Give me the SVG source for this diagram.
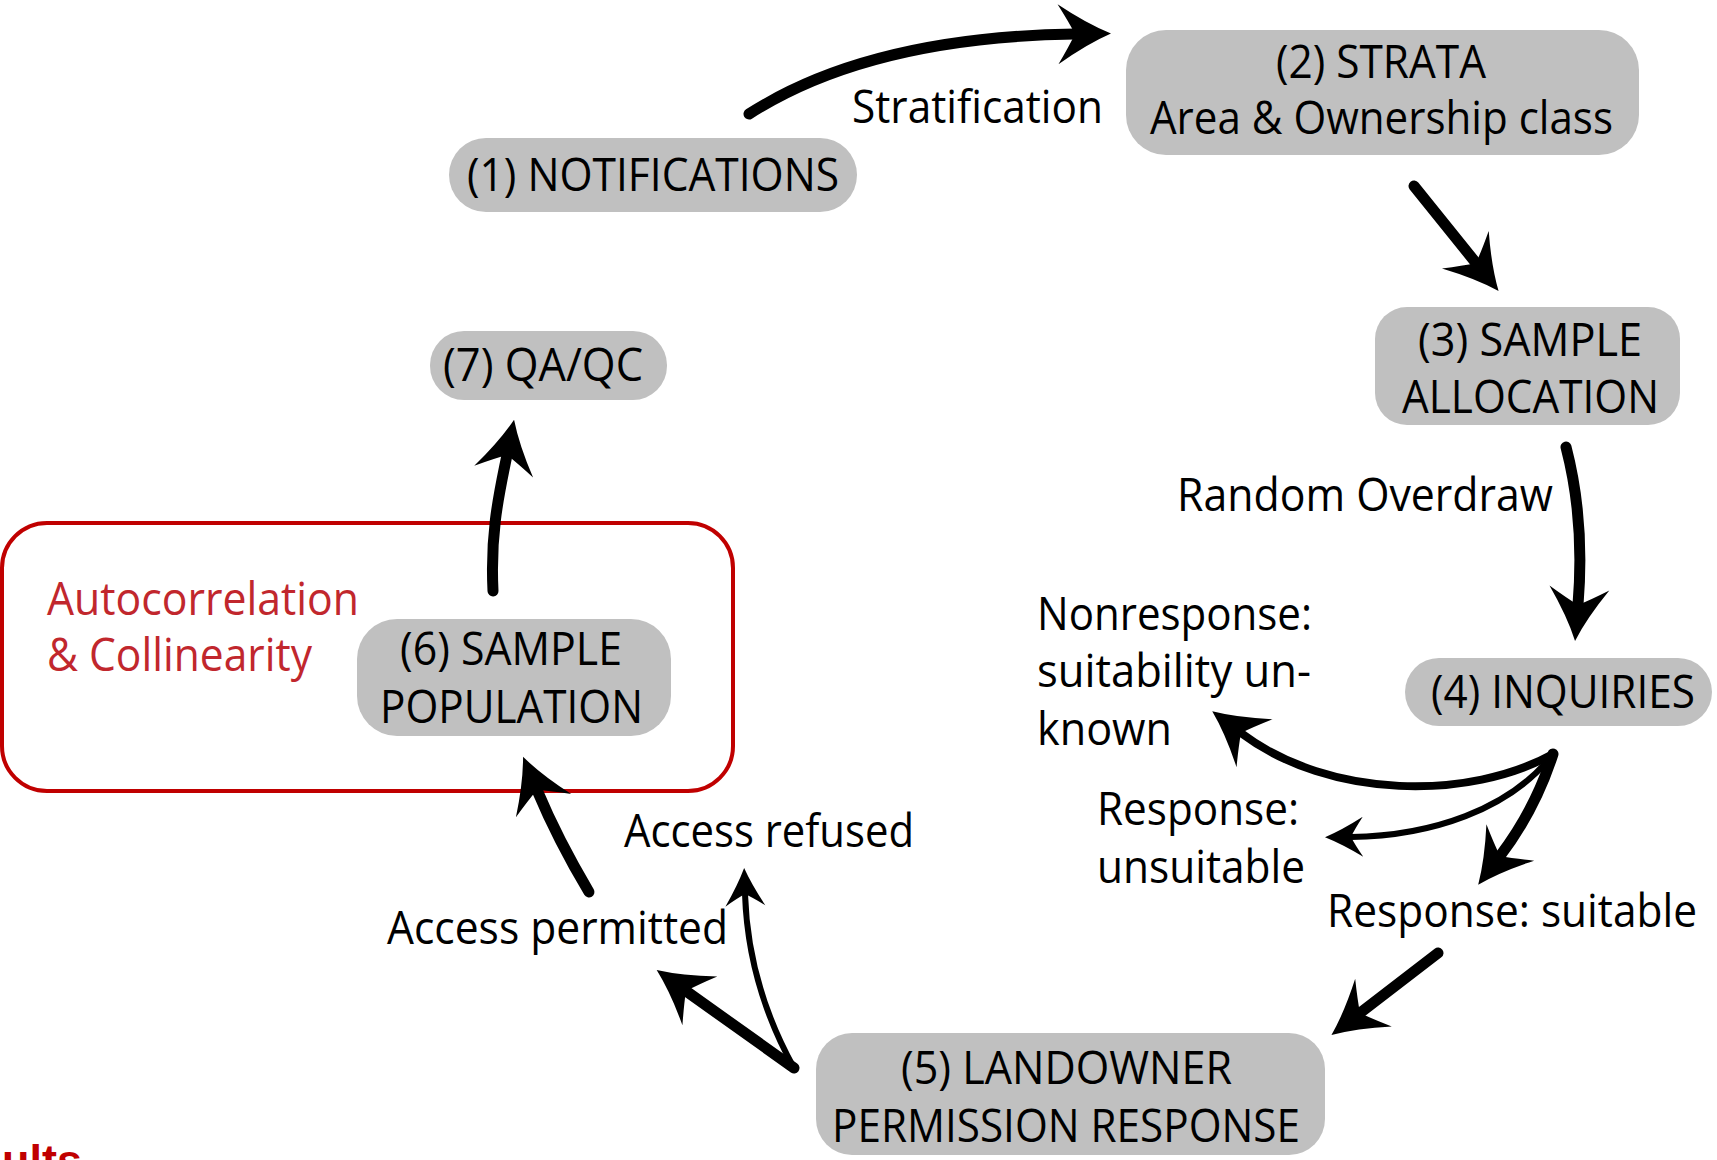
<svg xmlns="http://www.w3.org/2000/svg" width="1717" height="1160" viewBox="0 0 1717 1160">
<style>
.node{fill:#c0c0c0;}
.t{font-family:"Open Sans","Noto Sans","Liberation Sans",sans-serif;font-size:45px;fill:#000;}
.red{fill:#c1272d;}
.c{fill:none;stroke:#000;stroke-linecap:round;}
.w11{stroke-width:11;marker-end:url(#big);}
.w8{stroke-width:8;marker-end:url(#big);}
.w6{stroke-width:6;marker-end:url(#small);}
</style>
<defs>
<marker id="big" viewBox="-40 -40 80 80" markerWidth="80" markerHeight="80" refX="0" refY="0" orient="auto" markerUnits="userSpaceOnUse">
<path d="M36,0 Q12,-10 -17,-30 Q-6,-12 0,0 Q-6,12 -17,30 Q12,10 36,0 Z" fill="#000"/>
</marker>
<marker id="small" viewBox="-40 -40 80 80" markerWidth="80" markerHeight="80" refX="0" refY="0" orient="auto" markerUnits="userSpaceOnUse">
<path d="M26,0 Q9,-7 -12,-20 Q-4,-8 0,0 Q-4,8 -12,20 Q9,7 26,0 Z" fill="#000"/>
</marker>
</defs>
<rect width="1717" height="1160" fill="#fff"/>

<g id="group-red">
<rect x="2" y="523" width="731" height="268" rx="45" fill="none" stroke="#c00000" stroke-width="4"/>
<text class="t red" x="47" y="615" textLength="312" lengthAdjust="spacingAndGlyphs">Autocorrelation</text>
<text class="t red" x="47" y="671" textLength="265" lengthAdjust="spacingAndGlyphs">&amp; Collinearity</text>
</g>

<g id="node1">
<rect class="node" x="449" y="138" width="408" height="74" rx="37"/>
<text class="t" x="467" y="191" textLength="372" lengthAdjust="spacingAndGlyphs">(1) NOTIFICATIONS</text>
</g>
<g id="node2">
<rect class="node" x="1126" y="30" width="513" height="125" rx="40"/>
<text class="t" x="1276" y="78" textLength="210" lengthAdjust="spacingAndGlyphs">(2) STRATA</text>
<text class="t" x="1150" y="134" textLength="463" lengthAdjust="spacingAndGlyphs">Area &amp; Ownership class</text>
</g>
<g id="node3">
<rect class="node" x="1375" y="307" width="305" height="118" rx="32"/>
<text class="t" x="1418" y="356" textLength="224" lengthAdjust="spacingAndGlyphs">(3) SAMPLE</text>
<text class="t" x="1402" y="413" textLength="257" lengthAdjust="spacingAndGlyphs">ALLOCATION</text>
</g>
<g id="node4">
<rect class="node" x="1405" y="658" width="307" height="68" rx="34"/>
<text class="t" x="1431" y="708" textLength="264" lengthAdjust="spacingAndGlyphs">(4) INQUIRIES</text>
</g>
<g id="node5">
<rect class="node" x="816" y="1033" width="509" height="122" rx="36"/>
<text class="t" x="901" y="1084" textLength="331" lengthAdjust="spacingAndGlyphs">(5) LANDOWNER</text>
<text class="t" x="832" y="1142" textLength="468" lengthAdjust="spacingAndGlyphs">PERMISSION RESPONSE</text>
</g>
<g id="node6">
<rect class="node" x="357" y="619" width="314" height="117" rx="40"/>
<text class="t" x="400" y="665" textLength="222" lengthAdjust="spacingAndGlyphs">(6) SAMPLE</text>
<text class="t" x="380" y="723" textLength="263" lengthAdjust="spacingAndGlyphs">POPULATION</text>
</g>
<g id="node7">
<rect class="node" x="430" y="331" width="237" height="69" rx="34"/>
<text class="t" x="443" y="381" textLength="200" lengthAdjust="spacingAndGlyphs">(7) QA/QC</text>
</g>

<g id="labels">
<text class="t" x="852" y="123" textLength="251" lengthAdjust="spacingAndGlyphs">Stratification</text>
<text class="t" x="1177" y="511" textLength="376" lengthAdjust="spacingAndGlyphs">Random Overdraw</text>
<text class="t" x="1037" y="630" textLength="275" lengthAdjust="spacingAndGlyphs">Nonresponse:</text>
<text class="t" x="1037" y="687" textLength="274" lengthAdjust="spacingAndGlyphs">suitability un-</text>
<text class="t" x="1037" y="745" textLength="135" lengthAdjust="spacingAndGlyphs">known</text>
<text class="t" x="1097" y="825" textLength="202" lengthAdjust="spacingAndGlyphs">Response:</text>
<text class="t" x="1097" y="883" textLength="208" lengthAdjust="spacingAndGlyphs">unsuitable</text>
<text class="t" x="1327" y="927" textLength="370" lengthAdjust="spacingAndGlyphs">Response: suitable</text>
<text class="t" x="624" y="847" textLength="290" lengthAdjust="spacingAndGlyphs">Access refused</text>
<text class="t" x="387" y="944" textLength="341" lengthAdjust="spacingAndGlyphs">Access permitted</text>
<text x="2" y="1176" font-family="'Liberation Sans',Arial,sans-serif" font-weight="bold" font-size="44" fill="#c00000" textLength="80" lengthAdjust="spacingAndGlyphs">ults</text>
</g>

<g id="connectors">
<path class="c w11" d="M749,114 C830,62 940,36 1075,34"/>
<path class="c w11" d="M1414,186 L1476,263"/>
<path class="c w11" d="M1566,447 Q1585,520 1578,605"/>
<path class="c w8" d="M1553,754 C1470,800 1330,800 1241,733"/>
<path class="c w6" d="M1553,754 C1510,810 1430,836 1351,837"/>
<path class="c w11" d="M1553,754 Q1535,810 1500,856"/>
<path class="c w11" d="M1438,953 L1360,1013"/>
<path class="c w11" d="M794,1068 L686,991"/>
<path class="c w6" d="M794,1068 Q748,985 745,894"/>
<path class="c w11" d="M589,892 Q558,840 537,790"/>
<path class="c w11" d="M493,591 C490,530 500,490 507,455"/>
</g>
</svg>
